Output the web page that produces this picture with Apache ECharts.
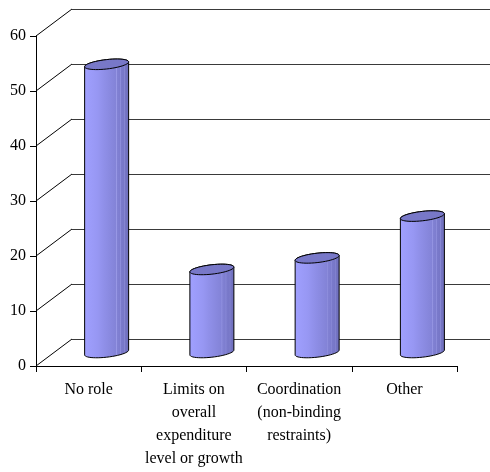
<!DOCTYPE html>
<html>
<head>
<meta charset="utf-8">
<script src="https://cdn.jsdelivr.net/npm/echarts@6/dist/echarts.min.js"></script>
<style>
  html, body { margin: 0; padding: 0; background: #fff; }
  #chart { width: 490px; height: 472px; }
</style>
</head>
<body>
<div id="chart"></div>
<script>
// Role categories and share of responses (%)
const categories = [
  'No role',
  'Limits on\noverall\nexpenditure\nlevel or growth',
  'Coordination\n(non-binding\nrestraints)',
  'Other'
];
const values = [52.4, 15.1, 17.2, 24.8];
const yTicks = [0, 10, 20, 30, 40, 50, 60];

// Depth of the pseudo-3D box (back wall offset) in pixels
const DEPTH_X = 36;
const DEPTH_Y = -27;
const FONT = '"Liberation Serif", "Times New Roman", serif';

const chart = echarts.init(document.getElementById('chart'), null, { renderer: 'canvas' });

function ellipsePoints(cx, cy, rx, ry, slope, from, to, n) {
  const pts = [];
  for (let k = 0; k <= n; k++) {
    const t = from + (to - from) * k / n;
    const dx = rx * Math.cos(t);
    pts.push([cx + dx, cy + ry * Math.sin(t) + slope * dx]);
  }
  return pts;
}

const bodyFill = new echarts.graphic.LinearGradient(0, 0, 1, 0, [
  { offset: 0.00, color: '#a0a0ff' },
  { offset: 0.30, color: '#9797f3' },
  { offset: 0.45, color: '#8f8fe8' },
  { offset: 0.60, color: '#8888de' },
  { offset: 0.71, color: '#8383d7' },
  { offset: 0.72, color: '#9999e6' },
  { offset: 0.74, color: '#8181d3' },
  { offset: 0.80, color: '#7d7dcf' },
  { offset: 0.81, color: '#9090dd' },
  { offset: 0.83, color: '#7a7acb' },
  { offset: 0.89, color: '#7777c7' },
  { offset: 0.90, color: '#8a8ad6' },
  { offset: 0.92, color: '#7474c3' },
  { offset: 1.00, color: '#6e6ebb' }
]);

function renderCylinder(params, api) {
  const idx = api.value(0);
  const val = api.value(1);
  const base = api.coord([idx, 0]);
  const top = api.coord([idx, val]);
  const cx = base[0] + DEPTH_X / 2;
  const cyBot = base[1] + DEPTH_Y / 2;
  const cyTop = top[1] + DEPTH_Y / 2;
  const rx = 22, ry = 4.7, slope = -0.11;

  const upperTop = ellipsePoints(cx, cyTop, rx, ry, slope, Math.PI, 2 * Math.PI, 24);
  const lowerBot = ellipsePoints(cx, cyBot, rx, ry, slope, 0, Math.PI, 24);
  const body = upperTop.concat(lowerBot);
  const cap = ellipsePoints(cx, cyTop, rx, ry, slope, 0, 2 * Math.PI, 48);

  return {
    type: 'group',
    children: [
      {
        type: 'polygon',
        shape: { points: body },
        style: { fill: bodyFill, stroke: '#000', lineWidth: 1 }
      },
      {
        type: 'polygon',
        shape: { points: cap },
        style: { fill: '#7878c8', stroke: '#000', lineWidth: 1 }
      }
    ]
  };
}

function renderDiagonal(params, api) {
  const v = api.value(1);
  const y = api.coord([0, v])[1];
  const x = params.coordSys.x;
  return {
    type: 'line',
    shape: { x1: x, y1: y, x2: x + DEPTH_X, y2: y + DEPTH_Y },
    style: { stroke: '#000', lineWidth: 1 }
  };
}

chart.setOption({
  animation: false,
  backgroundColor: '#ffffff',
  grid: [
    { left: 36, right: 33, top: 36, bottom: 106 },
    { left: 36 + DEPTH_X, right: 0, top: 36 + DEPTH_Y, bottom: 106 - DEPTH_Y }
  ],
  xAxis: [
    {
      type: 'category',
      gridIndex: 0,
      data: categories,
      boundaryGap: true,
      axisLine: { lineStyle: { color: '#000', width: 1 } },
      axisTick: { show: true, length: 6, lineStyle: { color: '#000' } },
      axisLabel: {
        interval: 0,
        margin: 12,
        color: '#000',
        fontFamily: FONT,
        fontSize: 16,
        lineHeight: 23,
        align: 'center'
      },
      splitLine: { show: false }
    },
    {
      type: 'value',
      gridIndex: 1,
      show: false
    }
  ],
  yAxis: [
    {
      type: 'value',
      gridIndex: 0,
      min: 0,
      max: 60,
      interval: 10,
      axisLine: { show: true, lineStyle: { color: '#000', width: 1 } },
      axisTick: { show: true, length: 6, lineStyle: { color: '#000' } },
      axisLabel: {
        margin: 10,
        color: '#000',
        fontFamily: FONT,
        fontSize: 16
      },
      splitLine: { show: false }
    },
    {
      type: 'value',
      gridIndex: 1,
      min: 0,
      max: 60,
      interval: 10,
      axisLine: { show: false },
      axisTick: { show: false },
      axisLabel: { show: false },
      splitLine: { show: true, lineStyle: { color: '#3a3a3a', width: 1 } }
    }
  ],
  series: [
    {
      type: 'custom',
      name: 'depth',
      xAxisIndex: 0,
      yAxisIndex: 0,
      renderItem: renderDiagonal,
      data: yTicks.map(v => [0, v]),
      z: 1,
      silent: true
    },
    {
      type: 'custom',
      name: 'share',
      xAxisIndex: 0,
      yAxisIndex: 0,
      renderItem: renderCylinder,
      data: values.map((v, i) => [i, v]),
      z: 5
    }
  ]
});
</script>
</body>
</html>
